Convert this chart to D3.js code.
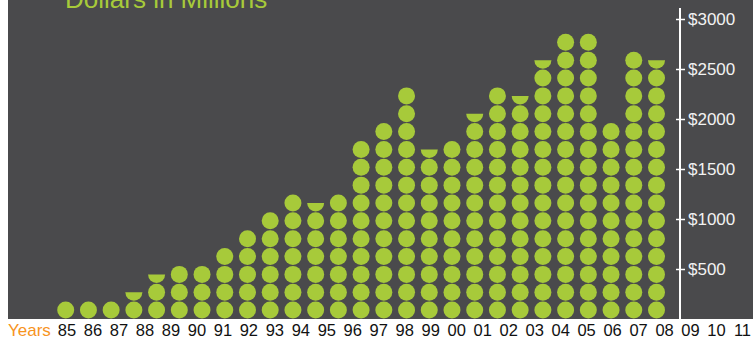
<!DOCTYPE html>
<html>
<head>
<meta charset="utf-8">
<script src="https://cdn.jsdelivr.net/npm/d3@7"></script>
<style>
  html, body { margin: 0; padding: 0; background: #ffffff; }
  svg { display: block; font-family: "Liberation Sans", Arial, sans-serif; }
</style>
</head>
<body>
<svg id="chart" width="753" height="340"></svg>
<script>
// ---- data ----
const years = ["85","86","87","88","89","90","91","92","93","94","95","96","97","98","99","00","01","02","03","04","05","06","07","08","09","10","11"];
const values = [179,179,179,268,446,536,536,714,893,1071,1250,1160,1250,1785,1964,2321,1696,1785,2053,2321,2231,2588,2856,2856,1964,2678,2588];
const tickValues = [500, 1000, 1500, 2000, 2500, 3000];
const dotUnit = 178.5; // dollars (millions) per dot
const titleText = "Dollars in Millions";
const yearsLabel = "Years";

// ---- layout ----
const W = 753, H = 340;
const bg = "#4a4a4c", green = "#a7ca3a", orange = "#f7941d";
const svg = d3.select("#chart");

svg.append("rect").attr("x", 8).attr("y", 0).attr("width", W - 8).attr("height", 319).attr("fill", bg);

const y = d3.scaleLinear().domain([0, 3000]).range([319, 19]);
const xDots = d3.scalePoint().domain(years).range([65.7, 656.5]);
const xLabels = d3.scalePoint().domain(years).range([67, 742.5]);
const r = 8.5;

// dots
const dots = [];
values.forEach((v, i) => {
  const n = Math.round(v / dotUnit * 2) / 2;
  const full = Math.floor(n);
  for (let k = 0; k < full; k++) dots.push({ year: years[i], row: k, frac: 1 });
  if (n - full > 0) dots.push({ year: years[i], row: full, frac: n - full });
});

const defs = svg.append("defs");
const g = svg.append("g");
dots.forEach((d, idx) => {
  const cx = xDots(d.year);
  const cy = (y(d.row * dotUnit) + y((d.row + 1) * dotUnit)) / 2;
  const c = g.append("circle").attr("cx", cx).attr("cy", cy).attr("r", r).attr("fill", green);
  if (d.frac < 1) {
    const id = "clip" + idx;
    defs.append("clipPath").attr("id", id).append("rect")
      .attr("x", cx - r - 1).attr("y", cy + r - d.frac * 2 * r)
      .attr("width", 2 * r + 2).attr("height", d.frac * 2 * r + 1);
    c.attr("clip-path", "url(#" + id + ")");
  }
});

// axis
const axisX = 680;
svg.append("line").attr("x1", axisX).attr("x2", axisX).attr("y1", 8).attr("y2", 319)
  .attr("stroke", "#ffffff").attr("stroke-width", 2);
const axis = d3.axisRight(y).tickValues(tickValues).tickFormat(d => "$" + d).tickSize(5).tickPadding(3);
const ag = svg.append("g").attr("transform", `translate(${axisX},0)`).call(axis);
ag.select(".domain").remove();
ag.selectAll(".tick line").attr("x1", -4).attr("x2", 5).attr("stroke", "#ffffff").attr("stroke-width", 1.5);
ag.selectAll(".tick text").attr("fill", "#f2f2f2").attr("font-size", 17)
  .attr("font-family", "Liberation Sans, Arial, sans-serif");

// title
svg.append("text").attr("x", 65).attr("y", 8).attr("fill", green).attr("font-size", 26).text(titleText);

// x labels
svg.append("text").attr("x", 8).attr("y", 335.5).attr("fill", orange).attr("font-size", 17).text(yearsLabel);
svg.append("g").selectAll("text").data(years).join("text")
  .attr("x", d => xLabels(d)).attr("y", 336).attr("text-anchor", "middle")
  .attr("fill", "#111111").attr("font-size", 16.5).text(d => d);
</script>
</body>
</html>
